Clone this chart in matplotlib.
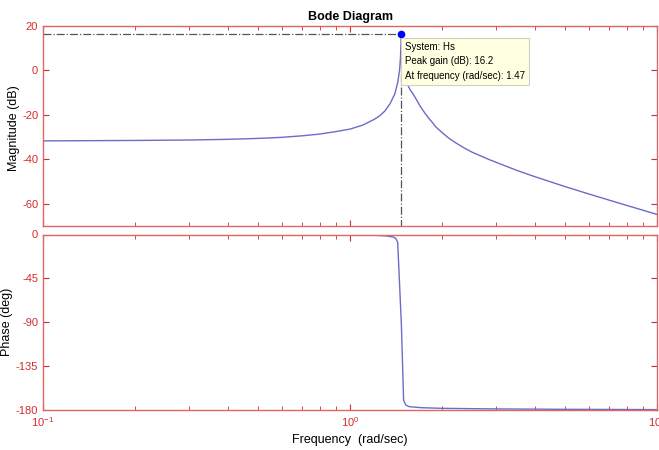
import matplotlib
matplotlib.use('Agg')
import matplotlib.pyplot as plt
import numpy as np
from matplotlib.ticker import LogLocator, NullFormatter, FixedLocator

plt.rcParams['font.family'] = ['Liberation Sans', 'DejaVu Sans']
plt.rcParams['mathtext.fontset'] = 'custom'
plt.rcParams['mathtext.rm'] = 'Liberation Sans'
plt.rcParams['mathtext.it'] = 'Liberation Sans'
plt.rcParams['axes.unicode_minus'] = False   # 负号用普通连字符

# 幅频特性 (读图所得)
w_mag = [0.1, 0.2, 0.3, 0.4, 0.5, 0.6, 0.7, 0.8, 0.9, 1.0, 1.1, 1.2, 1.25, 1.3,
         1.35, 1.4, 1.43, 1.45, 1.46, 1.47, 1.48, 1.49, 1.5, 1.52, 1.55, 1.57,
         1.6, 1.65, 1.7, 1.75, 1.8, 1.86, 1.9, 2.0, 2.1, 2.2, 2.35, 2.5, 2.85,
         3.0, 3.5, 4.0, 5.0, 6.0, 7.0, 8.0, 9.0, 10.0]
mag_db = [-31.7, -31.5, -31.3, -31.0, -30.6, -30.1, -29.4, -28.6, -27.5, -26.4,
          -24.6, -22.0, -20.4, -18.2, -15.0, -10.5, -5.5, 0.0, 5.5, 16.2, 5.0,
          0.0, -2.5, -4.6, -7.2, -8.7, -10.3, -13.4, -16.5, -19.0, -21.3, -23.6,
          -25.3, -28.1, -30.5, -32.4, -34.8, -36.8, -40.2, -41.4, -45.0, -47.8,
          -52.2, -55.6, -58.4, -60.8, -62.9, -64.8]

# 相频特性
w_ph = [0.1, 0.3, 0.6, 1.0, 1.2, 1.3, 1.38, 1.41, 1.43, 1.47, 1.495, 1.52,
        1.56, 1.7, 2.0, 3.0, 5.0, 10.0]
phase = [-0.1, -0.2, -0.3, -0.5, -0.8, -1.3, -2.5, -4.0, -8.0, -92.0, -170.0,
         -175.0, -176.6, -177.6, -178.3, -178.9, -179.3, -179.6]

peak_w = 1.47
peak_db = 16.2

mag_ticks = [-60, -40, -20, 0, 20]
ph_ticks = [-180, -135, -90, -45, 0]

red = '#d42a2a'
spine_red = '#e06666'
line_c = '#6b6bc9'

fig = plt.figure(figsize=(6.59, 4.5), dpi=100)
ax1 = fig.add_axes([43/659, 1-226/450, 614/659, 200/450])
ax2 = fig.add_axes([43/659, 1-410/450, 614/659, 175.5/450])

for ax in (ax1, ax2):
    ax.set_xscale('log')
    ax.set_xlim(0.1, 10)
    ax.xaxis.set_major_locator(LogLocator(base=10, numticks=10))
    ax.xaxis.set_minor_locator(LogLocator(base=10, subs=np.arange(2, 10), numticks=10))
    ax.xaxis.set_minor_formatter(NullFormatter())
    ax.tick_params(which='both', direction='in', top=True, right=True,
                   colors=red, labelsize=8, length=4)
    ax.tick_params(which='minor', length=3)
    for s in ax.spines.values():
        s.set_color(spine_red)
        s.set_linewidth(1.0)

# 幅值
ax1.plot(w_mag, mag_db, color=line_c, lw=1.0)
ax1.set_ylim(-70, 20)
ax1.yaxis.set_major_locator(FixedLocator(mag_ticks))
ax1.tick_params(axis='x', which='both', labelbottom=False)
ax1.plot([0.1, peak_w], [peak_db, peak_db], color='#555555', lw=0.9, ls='-.')
ax1.plot([peak_w, peak_w], [peak_db, -70], color='#555555', lw=0.9, ls='-.')
ax1.plot([peak_w], [peak_db], 'o', color='#0000ff', ms=4.5)
ax1.set_ylabel('Magnitude (dB)', fontsize=9)
ax1.yaxis.set_label_coords(-0.037, 0.49)
ax1.set_title('Bode Diagram', fontsize=9, fontweight='bold', pad=4)
ax1.text(peak_w * 1.025, 13.0,
         'System: Hs\nPeak gain (dB): 16.2\nAt frequency (rad/sec): 1.47',
         fontsize=7, va='top', ha='left', linespacing=1.6,
         bbox=dict(boxstyle='square,pad=0.4', fc='#ffffe1', ec='#d0d0c0', lw=0.8))

# 相位
ax2.plot(w_ph, phase, color=line_c, lw=1.0)
ax2.set_ylim(-180, 0)
ax2.yaxis.set_major_locator(FixedLocator(ph_ticks))
ax2.set_ylabel('Phase (deg)', fontsize=9)
ax2.yaxis.set_label_coords(-0.049, 0.5)
ax2.set_xlabel('Frequency  (rad/sec)', fontsize=9, labelpad=4)

fig.savefig('out.png', dpi=100)
